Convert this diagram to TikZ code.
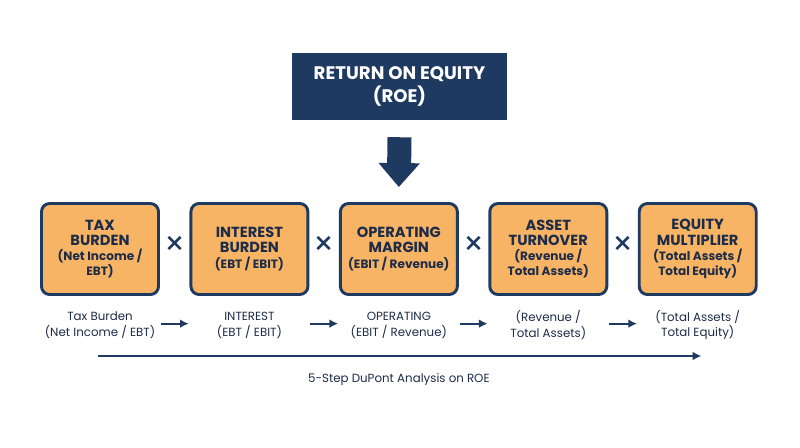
\documentclass[tikz,border=0pt]{standalone}
\usepackage{fontspec}
\setmainfont{Poppins}
\usepackage{tikz}
\usetikzlibrary{arrows.meta,positioning,calc}
\definecolor{navy}{HTML}{1F3A60}
\definecolor{inkblue}{HTML}{1D2C48}
\definecolor{softorange}{HTML}{F8B465}
\newcommand{\subl}[1]{{\fontsize{10.3}{13}\selectfont #1}}

\begin{document}
\begin{tikzpicture}[node distance=0.885cm, every node/.style={text=inkblue},
  factor/.style={draw=navy, line width=2.5pt, rounded corners=7pt, fill=softorange, align=center,
    minimum width=3.51cm, minimum height=2.73cm, inner sep=1pt,
    font=\fontsize{12.5}{13}\selectfont\bfseries},
  times/.style={font=\fontsize{28}{28}\selectfont, text=navy, inner sep=0pt},
  note/.style={align=center, font=\fontsize{10.1}{13.6}\selectfont},
  flow/.style={draw=navy, line width=1.6pt, -{Latex[length=2.6mm, width=2.6mm]}}]
  \useasboundingbox[fill=white] (0,0) rectangle (24,-13.41);
  \node[fill=navy, text=white, align=center, minimum width=6.45cm, minimum height=2.01cm,
    font=\fontsize{15.5}{19.5}\selectfont\bfseries] (roe) at (11.985,-2.595) {RETURN ON EQUITY\\(ROE)};
  % the five factors
  \node[factor] (tax) at (3.0,-7.47) {TAX\\BURDEN\\\subl{(Net Income /}\\\subl{EBT)}};
  \node[factor, right=of tax] (interest) {INTEREST\\BURDEN\\\subl{(EBT / EBIT)}};
  \node[factor, right=of interest] (margin) {OPERATING\\MARGIN\\\subl{(EBIT / Revenue)}};
  \node[factor, right=of margin] (turnover) {ASSET\\TURNOVER\\\subl{(Revenue /}\\\subl{Total Assets)}};
  \node[factor, right=of turnover] (multiplier) {EQUITY\\MULTIPLIER\\\subl{(Total Assets /}\\\subl{Total Equity)}};
  \node[times] (x1) at ($(tax.east)!.5!(interest.west)+(0,0.09)$) {×};
  \node[times] (x2) at ($(interest.east)!.5!(margin.west)+(0,0.09)$) {×};
  \node[times] (x3) at ($(margin.east)!.5!(turnover.west)+(0,0.09)$) {×};
  \node[times] (x4) at ($(turnover.east)!.5!(multiplier.west)+(0,0.09)$) {×};
  \draw[navy, line width=0.72cm, -{Triangle[length=0.72cm, width=1.2cm]}]
    ($(roe.south)+(0,-0.51)$) -- ($(margin.north)+(0,0.45)$);
  % the steps in words
  \node[note] (n1) at ($(tax.south)+(0,-0.87)$) {Tax Burden\\(Net Income / EBT)};
  \node[note] (n2) at ($(interest.south)+(0,-0.87)$) {INTEREST\\(EBT / EBIT)};
  \node[note] (n3) at ($(margin.south)+(0,-0.87)$) {OPERATING\\(EBIT / Revenue)};
  \node[note] (n4) at ($(turnover.south)+(0,-0.87)$) {(Revenue /\\Total Assets)};
  \node[note] (n5) at ($(multiplier.south)+(0,-0.87)$) {(Total Assets /\\Total Equity)};
  \foreach \a/\m/\b in {n1/x1/n2, n2/x2/n3, n3/x3/n4, n4/x4/n5}
    \draw[flow] ($(\m |- \a)+(-0.42,0.04)$) -- ($(\m |- \b)+(0.42,0.04)$);
  \coordinate (start) at ($(tax.center)+(-0.06,-3.21)$);
  \coordinate (stop) at ($(multiplier.center)+(0.11,-3.21)$);
  \draw[flow] (start) -- (stop);
  \node[note] (caption) at ($(margin.center)+(0,-3.93)$) {5-Step DuPont Analysis on ROE};
\end{tikzpicture}
\end{document}
